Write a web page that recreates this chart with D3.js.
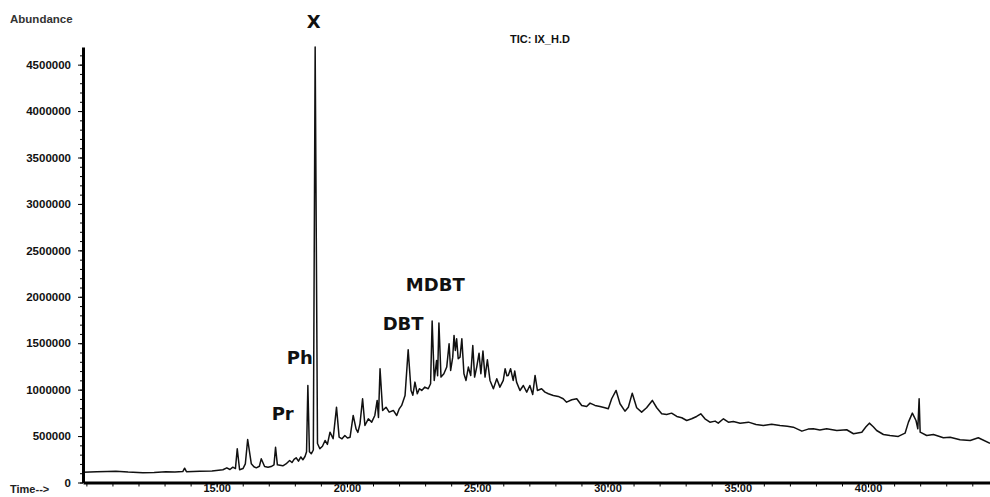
<!DOCTYPE html>
<html>
<head>
<meta charset="utf-8">
<script src="https://cdn.jsdelivr.net/npm/d3@7"></script>
<style>
html,body{margin:0;padding:0;background:#fff;}
svg{display:block;}
</style>
</head>
<body>
<svg id="chart" width="990" height="497"></svg>
<script>
// retention time (min)
const times = [9.87,10.40,10.80,11.13,11.60,12.17,12.60,13.05,13.40,13.70,13.77,13.84,14.35,14.82,15.24,15.39,15.51,15.62,15.72,15.79,15.88,16.01,16.10,16.19,16.33,16.43,16.52,16.64,16.71,16.84,16.97,17.09,17.20,17.26,17.33,17.43,17.54,17.66,17.80,17.89,17.97,18.05,18.14,18.23,18.31,18.39,18.45,18.50,18.56,18.63,18.71,18.78,18.87,18.96,19.06,19.16,19.25,19.35,19.47,19.60,19.70,19.81,19.92,20.02,20.12,20.24,20.35,20.42,20.50,20.60,20.69,20.82,20.95,21.07,21.16,21.21,21.27,21.37,21.50,21.62,21.78,21.91,22.00,22.10,22.23,22.35,22.46,22.53,22.61,22.70,22.78,22.87,22.99,23.12,23.21,23.27,23.35,23.44,23.48,23.53,23.61,23.72,23.83,23.92,23.98,24.06,24.11,24.16,24.21,24.27,24.34,24.41,24.49,24.57,24.66,24.75,24.83,24.90,24.98,25.07,25.14,25.22,25.30,25.39,25.49,25.62,25.75,25.87,26.00,26.07,26.14,26.19,26.28,26.38,26.44,26.51,26.64,26.77,26.90,27.02,27.13,27.22,27.31,27.47,27.60,27.73,27.92,28.11,28.30,28.43,28.63,28.82,29.01,29.20,29.33,29.52,29.71,29.90,30.03,30.16,30.33,30.48,30.67,30.80,30.95,31.12,31.31,31.50,31.72,31.89,32.08,32.27,32.46,32.66,32.85,33.04,33.23,33.42,33.58,33.74,33.93,34.13,34.25,34.45,34.64,34.83,35.09,35.41,35.70,35.98,36.30,36.62,36.90,37.13,37.46,37.70,37.90,38.15,38.41,38.80,39.18,39.44,39.76,39.92,40.05,40.20,40.33,40.59,40.84,41.16,41.42,41.55,41.70,41.84,41.91,41.96,42.00,42.25,42.51,42.89,43.15,43.53,43.92,44.23,44.68];
// abundance (TIC)
const abundance = [111000,115000,118000,122000,112000,104000,108000,115000,112000,118000,154000,117000,122000,125000,137000,158000,140000,165000,150000,363000,137000,150000,200000,463000,201000,170000,158000,175000,255000,172000,165000,172000,190000,380000,190000,185000,180000,200000,237000,215000,250000,266000,230000,275000,245000,280000,330000,1045000,330000,309000,350000,4690000,420000,363000,390000,453000,410000,542000,471000,811000,488000,470000,506000,480000,488000,722000,578000,540000,632000,902000,614000,686000,650000,722000,884000,700000,1225000,776000,811000,758000,776000,722000,790000,830000,937000,1430000,991000,940000,1081000,956000,1010000,991000,1027000,1010000,1064000,1738000,1099000,1315000,1150000,1717000,1135000,1171000,1243000,1494000,1207000,1350000,1584000,1422000,1548000,1333000,1350000,1548000,1171000,1099000,1243000,1153000,1476000,1135000,1243000,1393000,1171000,1415000,1135000,1322000,1099000,1010000,1117000,1027000,1099000,1225000,1150000,1153000,1225000,1099000,1200000,1081000,991000,1045000,973000,1045000,948000,1153000,991000,1010000,973000,956000,937000,927000,902000,865000,891000,902000,830000,819000,855000,830000,819000,805000,794000,902000,991000,848000,768000,811000,962000,805000,758000,805000,884000,805000,740000,733000,747000,711000,697000,668000,686000,711000,740000,686000,650000,661000,639000,686000,650000,657000,639000,650000,625000,614000,628000,614000,605000,596000,553000,575000,578000,565000,578000,560000,568000,525000,542000,600000,639000,600000,560000,517000,506000,496000,531000,650000,747000,668000,578000,902000,542000,506000,517000,482000,488000,460000,453000,482000,423000];

const xTickLabels = [15, 20, 25, 30, 35, 40];
const yTickLabels = [0, 500000, 1000000, 1500000, 2000000, 2500000, 3000000, 3500000, 4000000, 4500000];
const peakLabels = ["X", "Ph", "Pr", "DBT", "MDBT"];
const peakLabelTimes = [18.46, 17.69, 17.11, 21.37, 22.26];
const peakLabelAbundance = [4892000, 1271600, 675700, 1638000, 2061000];

const svg = d3.select("#chart");
const x = d3.scaleLinear().domain([9.87, 44.68]).range([83, 990]);
const y = d3.scaleLinear().domain([0, 4690000]).range([482.5, 47]);

const data = times.map((t, i) => ({t, v: abundance[i]}));

// chromatogram trace
const line = d3.line().x(d => x(d.t)).y(d => y(d.v));
svg.append("path")
  .datum(data)
  .attr("d", line)
  .attr("fill", "none")
  .attr("stroke", "#111")
  .attr("stroke-width", 1.5)
  .attr("stroke-linejoin", "round");

const tickFont = "bold 11.5px 'Liberation Sans', Arial, sans-serif";

// y minor ticks
svg.append("g")
  .attr("transform", "translate(83,0)")
  .call(d3.axisLeft(y).tickValues(d3.range(0, 4690000, 100000)).tickSize(3).tickFormat(""))
  .call(g => g.select(".domain").remove())
  .call(g => g.selectAll("line").attr("stroke", "#000").attr("stroke-width", 1));

// y major ticks
svg.append("g")
  .attr("transform", "translate(83,0)")
  .call(d3.axisLeft(y).tickValues(yTickLabels).tickSize(5).tickPadding(7).tickSizeOuter(0).tickFormat(d3.format("d")))
  .call(g => g.select(".domain").attr("stroke", "#000").attr("stroke-width", 3))
  .call(g => g.selectAll("line").attr("stroke", "#000").attr("stroke-width", 1))
  .call(g => g.selectAll("text").style("font", tickFont).attr("fill", "#111"));

// x minor ticks
svg.append("g")
  .attr("transform", "translate(0,482.5)")
  .call(d3.axisBottom(x).tickValues(d3.range(10, 45, 1)).tickSize(4).tickFormat(""))
  .call(g => g.select(".domain").remove())
  .call(g => g.selectAll("line").attr("stroke", "#000").attr("stroke-width", 1));

// x major ticks
svg.append("g")
  .attr("transform", "translate(0,482.5)")
  .call(d3.axisBottom(x).tickValues(xTickLabels).tickSize(5).tickSizeOuter(0).tickFormat(d3.format(".2f")))
  .call(g => g.select(".domain").attr("stroke", "#000").attr("stroke-width", 3))
  .call(g => g.selectAll("line").attr("stroke", "#000").attr("stroke-width", 1))
  .call(g => g.selectAll("text").style("font", "bold 11px 'Liberation Sans', Arial, sans-serif")
    .attr("fill", "#111").attr("y", 2).attr("dy", "0.71em"));

// axis titles
svg.append("text").attr("x", 10).attr("y", 23)
  .style("font", "bold 11.5px 'Liberation Sans', Arial, sans-serif").attr("fill", "#333")
  .text("Abundance");
svg.append("text").attr("x", 10).attr("y", 493)
  .style("font", "bold 11px 'Liberation Sans', Arial, sans-serif").attr("fill", "#222")
  .text("Time-->");
svg.append("text").attr("x", 510).attr("y", 43)
  .style("font", "bold 11px 'Liberation Sans', Arial, sans-serif").attr("fill", "#111")
  .text("TIC: IX_H.D");

// peak labels
svg.append("g").selectAll("text")
  .data(peakLabels)
  .join("text")
  .attr("x", (d, i) => x(peakLabelTimes[i]))
  .attr("y", (d, i) => y(peakLabelAbundance[i]))
  .style("font", "bold 18px 'DejaVu Sans', Verdana, sans-serif")
  .attr("fill", "#111")
  .text(d => d);
</script>
</body>
</html>
